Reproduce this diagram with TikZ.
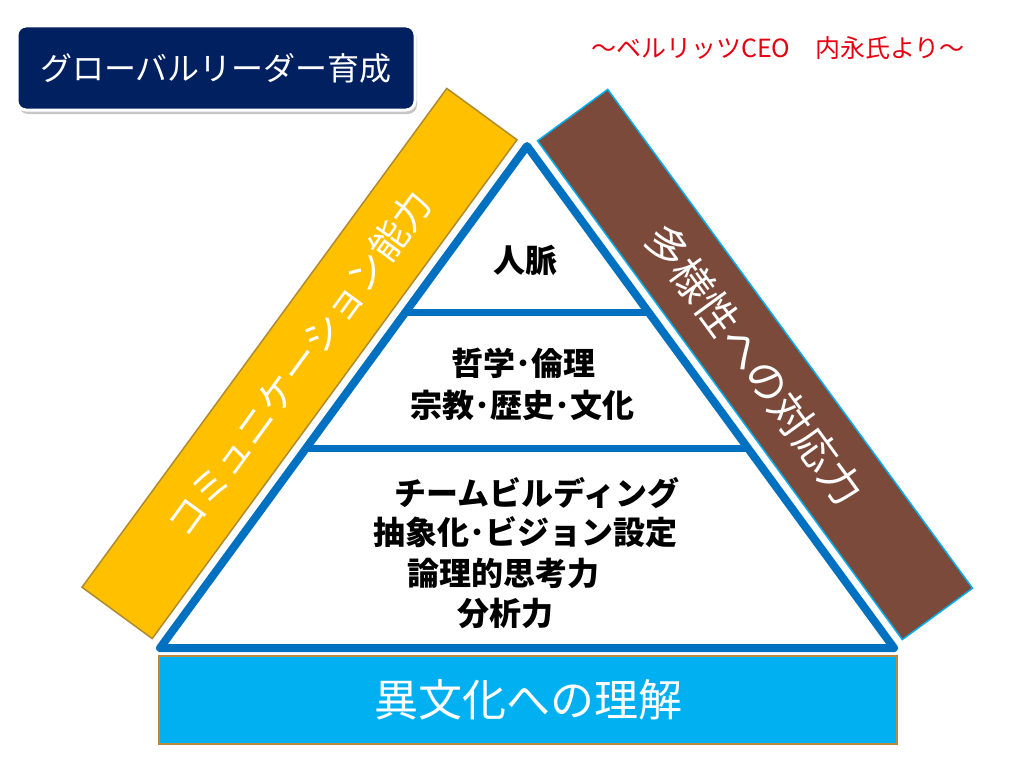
\documentclass[tikz,border=0pt]{standalone}
\usepackage{fontspec}
\setmainfont{Noto Sans CJK JP}
\usetikzlibrary{calc,shadows}

\definecolor{marine}{HTML}{002060}
\definecolor{jaune}{HTML}{FFC000}
\definecolor{jauneBord}{HTML}{B08A2E}
\definecolor{brun}{HTML}{7B4A3A}
\definecolor{ciel}{HTML}{00B0F0}
\definecolor{bleuTri}{HTML}{0070C0}
\definecolor{orBord}{HTML}{B8893A}
\definecolor{rouge}{HTML}{E60012}

\newcommand{\taille}[1]{\fontsize{#1pt}{#1pt}\selectfont}

\tikzset{
    bande/.style={line width=1.5pt, text=white, minimum width=618pt, minimum height=87pt, inner sep=0pt},
    niveau/.style={font=\taille{32}\bfseries, text=black},
    trait/.style={bleuTri, line width=7pt},
}

\begin{document}
\begin{tikzpicture}[x=1pt,y=-1pt]
    \useasboundingbox (0,0) rectangle (1024,768);

    % titre
    \node[fill=marine, draw=white, line width=3pt, rounded corners=9pt,
          drop shadow={shadow xshift=2pt,shadow yshift=-4pt,opacity=.45},
          minimum width=398pt, minimum height=84pt, text=white, font=\taille{32}]
          (titre) at (216,68) {グローバルリーダー育成};

    % source
    \node[text=rouge, font=\taille{25}] (source) at (778,48) {～ベルリッツCEO　内永氏より～};

    % bandes
    \node[bande, fill=jaune, draw=jauneBord, rotate=53.82, font=\taille{38}] (comm) at (299.5,363.5) {コミュニケーション能力};
    \node[bande, fill=brun, draw=ciel, rotate=-53.82, font=\taille{42}] (diver) at (755,364.5) {多様性への対応力};

    % triangle
    \coordinate (sommet) at (527,146);
    \coordinate (bg) at (160,648);
    \coordinate (bd) at (894,648);
    \draw[bleuTri, line width=8pt, line join=round, fill=white] (sommet) -- (bg) -- (bd) -- cycle;

    % etages
    \coordinate (g1) at ($(sommet)!0.331!(bg)$);
    \coordinate (d1) at ($(sommet)!0.331!(bd)$);
    \coordinate (g2) at ($(sommet)!0.602!(bg)$);
    \coordinate (d2) at ($(sommet)!0.602!(bd)$);
    \draw[trait] (g1) -- (d1);
    \draw[trait] (g2) -- (d2);

    % niveaux
    \node[niveau] (reseau) at (525,260) {人脈};
    \node[niveau] (philo) at (523,363) {哲学･倫理};
    \node[niveau] (culture) at (522,405) {宗教･歴史･文化};
    \node[niveau] (equipe) at (537,493) {チームビルディング};
    \node[niveau] (vision) at (525,532) {抽象化･ビジョン設定};
    \node[niveau] (logique) at (503,573) {論理的思考力};
    \node[niveau] (analyse) at (505,613) {分析力};

    % socle
    \node[fill=ciel, draw=orBord, line width=1.5pt, minimum width=738pt, minimum height=88pt,
          text=white, font=\taille{44}] (socle) at (528,700) {異文化への理解};
\end{tikzpicture}
\end{document}
